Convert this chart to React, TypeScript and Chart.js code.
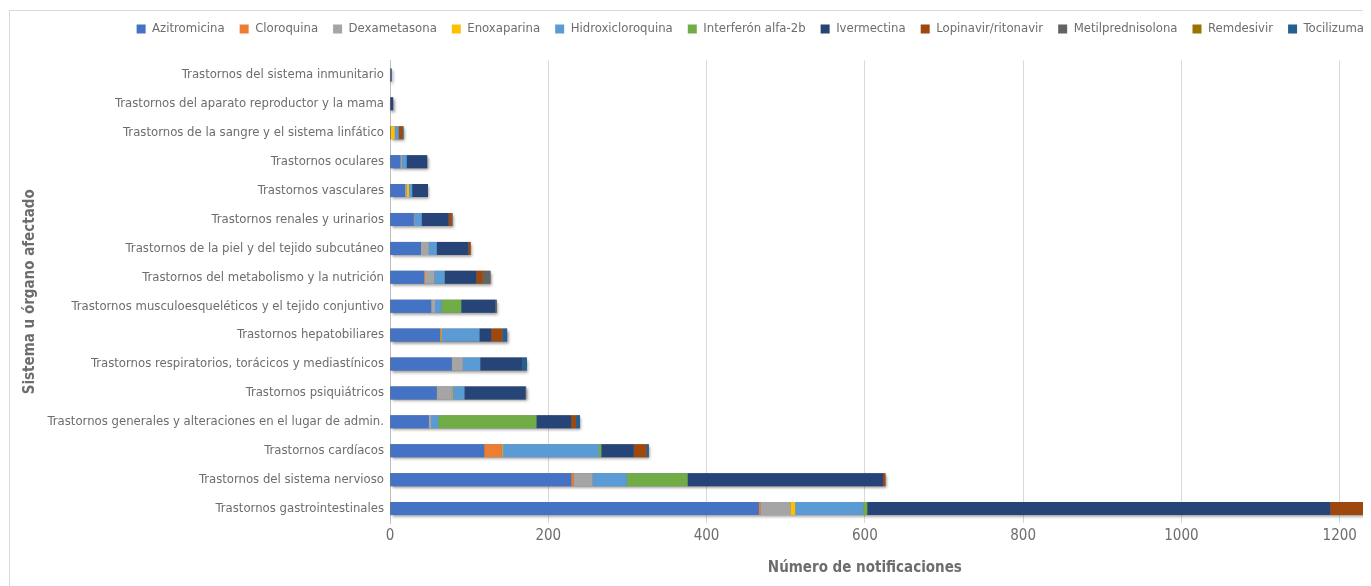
import React, { useEffect, useRef } from 'react';
import { Chart, registerables } from 'chart.js';

Chart.register(...registerables);

const categories = [
  'Trastornos del sistema inmunitario',
  'Trastornos del aparato reproductor y la mama',
  'Trastornos de la sangre y el sistema linfático',
  'Trastornos oculares',
  'Trastornos vasculares',
  'Trastornos renales y urinarios',
  'Trastornos de la piel y del tejido subcutáneo',
  'Trastornos del metabolismo y la nutrición',
  'Trastornos musculoesqueléticos y el tejido conjuntivo',
  'Trastornos hepatobiliares',
  'Trastornos respiratorios, torácicos y mediastínicos',
  'Trastornos psiquiátricos',
  'Trastornos generales y alteraciones en el lugar de admin.',
  'Trastornos cardíacos',
  'Trastornos del sistema nervioso',
  'Trastornos gastrointestinales',
];

const azitromicina = [1, 0, 1, 13, 19, 30, 39, 43, 52, 63, 78, 59, 49, 119, 229, 466];
const cloroquina = [0, 0, 0, 0, 0, 0, 0, 1, 0, 1, 0, 0, 0, 22, 3, 2];
const dexametasona = [0, 0, 0, 2, 2, 1, 10, 12, 5, 0, 14, 19, 3, 1, 24, 38];
const enoxaparina = [0, 0, 5, 0, 3, 0, 0, 0, 0, 1, 0, 1, 0, 1, 0, 6];
const hidroxicloroquina = [0, 0, 5, 6, 4, 9, 10, 13, 8, 48, 22, 15, 9, 121, 43, 86];
const interferon = [0, 0, 0, 0, 0, 0, 0, 0, 25, 0, 0, 0, 124, 3, 77, 5];
const ivermectina = [1, 4, 0, 26, 20, 34, 40, 40, 43, 15, 53, 77, 44, 41, 247, 585];
const lopinavir = [0, 0, 5, 0, 0, 4, 3, 8, 0, 14, 0, 0, 6, 16, 3, 50];
const metilprednisolona = [0, 0, 0, 0, 0, 1, 0, 10, 2, 0, 0, 1, 0, 0, 0, 0];
const remdesivir = [0, 0, 0, 0, 0, 0, 0, 0, 0, 0, 0, 0, 0, 0, 0, 0];
const tocilizumab = [0, 0, 1, 0, 0, 0, 0, 0, 0, 6, 6, 0, 5, 3, 0, 10];

const seriesNames = [
  'Azitromicina', 'Cloroquina', 'Dexametasona', 'Enoxaparina', 'Hidroxicloroquina',
  'Interferón alfa-2b', 'Ivermectina', 'Lopinavir/ritonavir', 'Metilprednisolona',
  'Remdesivir', 'Tocilizumab',
];
const seriesValues = [
  azitromicina, cloroquina, dexametasona, enoxaparina, hidroxicloroquina,
  interferon, ivermectina, lopinavir, metilprednisolona, remdesivir, tocilizumab,
];
const seriesColors = [
  '#4472C4', '#ED7D31', '#A5A5A5', '#FFC000', '#5B9BD5',
  '#70AD47', '#264478', '#9E480E', '#636363', '#997300', '#255E91',
];

const xMax = 1400;
const xStep = 200;
const xTitle = 'Número de notificaciones';
const yTitle = 'Sistema u órgano afectado';

const FONT = '"Liberation Sans Narrow", "DejaVu Sans Condensed", "Arial Narrow", sans-serif';
const TEXT = '#6d6d6d';

const shadowPlugin = {
  id: 'barShadow',
  beforeDatasetsDraw(chart: any) {
    const ctx = chart.ctx;
    const xs = chart.scales.x;
    const meta0 = chart.getDatasetMeta(0);
    ctx.save();
    ctx.shadowColor = 'rgba(0,0,0,0.45)';
    ctx.shadowBlur = 3;
    ctx.shadowOffsetX = 1.5;
    ctx.shadowOffsetY = 2;
    ctx.fillStyle = '#777';
    categories.forEach((_, i) => {
      let total = 0;
      seriesValues.forEach((arr) => { total += arr[i]; });
      const el = meta0.data[i];
      if (!el) return;
      const h = el.height;
      const x0 = xs.getPixelForValue(0);
      const x1 = xs.getPixelForValue(total);
      ctx.fillRect(x0, el.y - h / 2, x1 - x0, h);
    });
    ctx.restore();
  },
};

const titlePlugin = {
  id: 'axisTitles',
  afterDraw(chart: any) {
    const ctx = chart.ctx;
    const area = chart.chartArea;
    const xs = chart.scales.x;
    ctx.save();
    ctx.fillStyle = TEXT;
    ctx.font = `bold 15px ${FONT}`;
    ctx.textAlign = 'center';
    ctx.textBaseline = 'middle';
    ctx.fillText(xTitle, xs.getPixelForValue(600), area.bottom + 45);
    ctx.translate(20, (area.top + area.bottom) / 2);
    ctx.rotate(-Math.PI / 2);
    ctx.fillText(yTitle, 0, 0);
    ctx.restore();
  },
};

export default function App() {
  const ref = useRef<HTMLCanvasElement | null>(null);

  useEffect(() => {
    if (!ref.current) return;
    const chart = new Chart(ref.current, {
      type: 'bar',
      data: {
        labels: categories,
        datasets: seriesNames.map((name, k) => ({
          label: name,
          data: seriesValues[k],
          backgroundColor: seriesColors[k],
          borderWidth: 0,
          barPercentage: 0.9,
          categoryPercentage: 0.5,
        })),
      },
      options: {
        indexAxis: 'y',
        animation: false,
        responsive: false,
        maintainAspectRatio: false,
        layout: { padding: { top: -3.5, right: 12, bottom: 48, left: 0 } },
        plugins: {
          legend: {
            position: 'top',
            labels: {
              boxWidth: 9,
              boxHeight: 9,
              padding: 15,
              color: TEXT,
              font: { family: FONT, size: 13 },
            },
          },
          tooltip: { enabled: false },
        },
        scales: {
          x: {
            stacked: true,
            min: 0,
            max: xMax,
            ticks: {
              stepSize: xStep,
              color: TEXT,
              font: { family: FONT, size: 15 },
              padding: 4,
              callback: (v: any) => String(v),
            },
            grid: { color: '#d9d9d9', drawTicks: false },
            border: { display: false },
            afterFit: (s: any) => { s.height = 30; s.paddingLeft = 0; s.paddingRight = 0; },
          },
          gap: {
            type: 'linear',
            position: 'top',
            display: true,
            ticks: { display: false },
            grid: { display: false, drawTicks: false },
            border: { display: false },
            afterFit: (s: any) => { s.height = 15; s.paddingLeft = 0; s.paddingRight = 0; },
          },
          y: {
            stacked: true,
            ticks: { color: TEXT, font: { family: FONT, size: 13 }, padding: 6, autoSkip: false },
            grid: { display: false, drawTicks: false },
            border: { display: true, color: '#bfbfbf' },
            afterFit: (s: any) => { s.width = 380; s.paddingTop = 0; s.paddingBottom = 0; },
          },
        },
      },
      plugins: [shadowPlugin, titlePlugin],
    });
    return () => chart.destroy();
  }, []);

  return (
    <div style={{ position: 'relative', width: 1363, height: 578, overflow: 'hidden' }}>
      <div
        style={{
          position: 'absolute',
          left: 1,
          top: 2,
          width: 1500,
          height: 600,
          border: '1px solid #d9d9d9',
          background: '#fff',
        }}
      >
        <canvas ref={ref} width={1500} height={590} style={{ display: 'block' }} />
      </div>
    </div>
  );
}
